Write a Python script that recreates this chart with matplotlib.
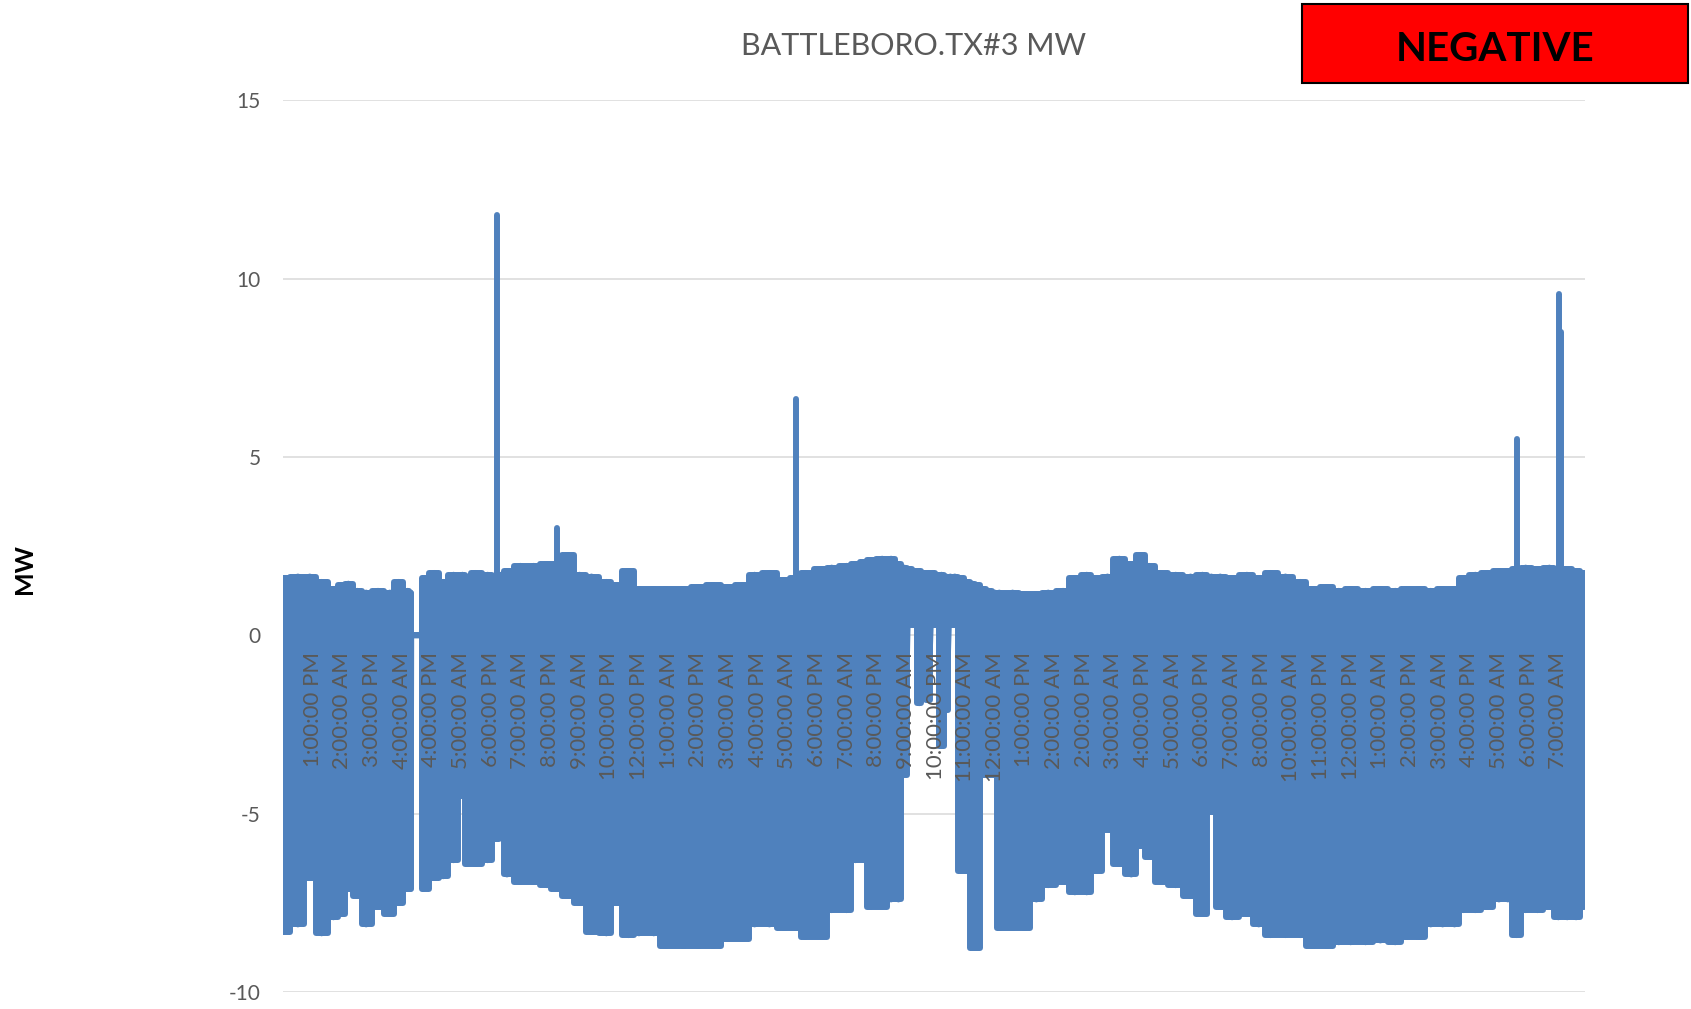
import numpy as np
import matplotlib
matplotlib.use("Agg")
from matplotlib import pyplot as plt
from matplotlib.patches import Rectangle

plt.rcParams['font.family'] = ['Lato', 'DejaVu Sans']

# time axis in label units (1 = first label), envelope of the dense MW trace
t = [0.0, 0.5, 0.9, 1.3, 1.7, 2.0, 2.2, 2.5, 2.8, 3.2, 3.6, 3.9, 4.2, 4.3,
     4.32, 4.68,
     4.72, 5.1, 5.4, 5.75, 6.05, 6.2, 6.5, 6.9, 7.2, 7.35, 7.55, 8.0, 8.45,
     8.9, 9.2, 9.6, 10.0, 10.4, 10.9, 11.2, 11.65, 12.0, 12.5, 12.9, 13.5,
     14.0, 14.5, 15.0, 15.5, 15.9, 16.4, 16.9, 17.3, 17.6, 18.2, 18.5, 19.0,
     19.3, 19.6, 19.8, 20.2, 20.5, 20.75,
     20.95, 21.1, 21.3, 21.45, 21.6, 21.75, 21.9, 22.05, 22.2, 22.36, 22.5,
     22.65, 22.85, 23.05, 23.25, 23.4, 23.6, 23.8, 24.0,
     24.15, 24.6, 25.0, 25.4, 25.8, 26.3, 26.7, 27.1, 27.4, 27.8, 28.2, 28.6,
     28.9, 29.2, 29.6, 30.1, 30.6, 31.0, 31.3, 31.6, 32.0, 32.5, 32.9, 33.3,
     33.8, 34.3, 34.7, 35.2, 35.6, 36.0, 36.5, 37.0, 37.5, 37.9, 38.3, 38.7,
     39.1, 39.5, 39.8, 40.2, 40.6, 41.0, 41.3, 41.6, 41.9, 42.3, 42.7, 43.0,
     43.3, 43.6, 43.85, 43.9]

hi = [1.6, 1.65, 1.65, 1.5, 1.3, 1.4, 1.45, 1.25, 1.2, 1.25, 1.2, 1.5, 1.25, 1.2,
      0, 0,
      1.6, 1.75, 1.5, 1.7, 1.7, 1.65, 1.75, 1.7, 1.6, 1.7, 1.8, 1.95, 1.95,
      2.0, 2.0, 2.25, 1.7, 1.65, 1.5, 1.4, 1.8, 1.3, 1.3, 1.3, 1.3,
      1.35, 1.4, 1.35, 1.4, 1.7, 1.75, 1.55, 1.6, 1.75, 1.85, 1.9, 1.95,
      2.0, 2.05, 2.1, 2.15, 2.15, 2.0,
      1.9, 1.85, 1.8, 1.8, 1.75, 1.75, 1.75, 1.7, 1.7, 1.65, 1.65,
      1.65, 1.6, 1.5, 1.45, 1.4, 1.3, 1.25, 1.2,
      1.2, 1.2, 1.15, 1.15, 1.2, 1.25, 1.6, 1.7, 1.6, 1.65, 2.15, 2.0,
      2.25, 1.95, 1.75, 1.7, 1.65, 1.7, 1.65, 1.65, 1.6, 1.7, 1.6, 1.75,
      1.65, 1.5, 1.3, 1.35, 1.25, 1.3, 1.25, 1.3, 1.25, 1.3, 1.3, 1.25,
      1.3, 1.3, 1.6, 1.7, 1.75, 1.8, 1.8, 1.85, 1.9, 1.85, 1.9, 1.85,
      1.85, 1.8, 1.75, 0]

lo = [-8.3, -8.1, -6.8, -8.35, -7.9, -7.8, -7.1, -7.3, -8.1, -7.6, -7.8, -7.5, -7.1, -7.1,
      0, 0,
      -7.1, -6.8, -6.75, -6.3, -4.5, -6.4, -6.4, -6.3, -5.7, -4.8, -6.7, -6.9, -6.9,
      -7.0, -7.1, -7.3, -7.5, -8.3, -8.35, -7.5, -8.4, -8.35, -8.35, -8.7, -8.7,
      -8.7, -8.7, -8.5, -8.5, -8.1, -8.1, -8.2, -8.2, -8.45, -8.45, -7.7, -7.7,
      -6.3, -6.3, -7.6, -7.6, -7.4, -7.4,
      -3.9, 0.3, 0.3, -1.9, 0.3, -1.8, 0.3, 0.3, -3.1, -2.1, 0.3,
      0.3, -6.6, -6.6, -8.75, -8.75, -3.9, -3.9, -3.9,
      -8.2, -8.2, -8.2, -7.4, -7.0, -6.9, -7.2, -7.2, -6.6, -5.45, -6.4, -6.7,
      -5.9, -6.2, -6.9, -7.0, -7.3, -7.8, -4.95, -7.6, -7.9, -7.8, -8.1, -8.4,
      -8.4, -8.4, -8.7, -8.7, -8.6, -8.6, -8.6, -8.55, -8.6, -8.45, -8.45, -8.1,
      -8.1, -8.1, -7.7, -7.7, -7.6, -7.4, -7.4, -8.4, -7.7, -7.7, -7.6, -7.9,
      -7.9, -7.9, -7.6, 0]

# short spikes above the band
spike_t = [7.2, 9.22, 17.3, 41.62, 43.02, 43.08]
spike_top = [11.77, 3.0, 6.63, 5.5, 9.56, 8.5]

xlabels = ['1:00:00 PM', '2:00:00 AM', '3:00:00 PM', '4:00:00 AM', '4:00:00 PM',
           '5:00:00 AM', '6:00:00 PM', '7:00:00 AM', '8:00:00 PM', '9:00:00 AM',
           '10:00:00 PM', '12:00:00 PM', '1:00:00 AM', '2:00:00 PM', '3:00:00 AM',
           '4:00:00 PM', '5:00:00 AM', '6:00:00 PM', '7:00:00 AM', '8:00:00 PM',
           '9:00:00 AM', '10:00:00 PM', '11:00:00 AM', '12:00:00 AM', '1:00:00 PM',
           '2:00:00 AM', '2:00:00 PM', '3:00:00 AM', '4:00:00 PM', '5:00:00 AM',
           '6:00:00 PM', '7:00:00 AM', '8:00:00 PM', '10:00:00 AM', '11:00:00 PM',
           '12:00:00 PM', '1:00:00 AM', '2:00:00 PM', '3:00:00 AM', '4:00:00 PM',
           '5:00:00 AM', '6:00:00 PM', '7:00:00 AM']
yticks = [-10, -5, 0, 5, 10, 15]

blue = '#4F81BD'
grey = '#595959'

fig = plt.figure(figsize=(16.91, 10.09), dpi=100)
ax = fig.add_axes([0.1674, 0.01665, 0.7699, 0.884])

# band + edges drawn as steps, then the trace itself zig-zagging hi/lo
ax.fill_between(t, lo, hi, step='mid', color=blue, lw=0, zorder=2)
ax.plot(t, hi, color=blue, lw=4.3, drawstyle='steps-mid', solid_joinstyle='round',
        solid_capstyle='round', zorder=2)
ax.plot(t, lo, color=blue, lw=4.3, drawstyle='steps-mid', solid_joinstyle='round',
        solid_capstyle='round', zorder=2)
zx = np.repeat(t, 2)
zy = np.column_stack([hi, lo]).ravel()
ax.plot(zx, zy, color=blue, lw=4.3, solid_joinstyle='round', solid_capstyle='round', zorder=2)
ax.vlines(spike_t, 0, spike_top, color=blue, lw=4.3, capstyle='round', zorder=2)

ax.set_xlim(0, 43.9)
ax.set_ylim(-10, 15)
ax.set_yticks(yticks)
ax.set_yticklabels([str(v) for v in yticks])
ax.yaxis.grid(True, color='#D9D9D9', lw=1.1)
ax.set_axisbelow(True)

ax.set_xticks(range(1, len(xlabels) + 1))
ax.set_xticklabels(xlabels)
ax.spines['bottom'].set_position(('data', 0))
ax.xaxis.set_zorder(5)
for s in ax.spines.values():
    s.set_visible(False)
ax.tick_params(axis='x', length=0, pad=12, labelsize=16, labelcolor=grey, labelrotation=90)
ax.tick_params(axis='y', length=0, pad=16, labelsize=15, labelcolor=grey)
for lab in ax.get_xticklabels():
    lab.set_va('top')
    lab.set_ha('center')

fig.text(0.54, 0.954, 'BATTLEBORO.TX#3 MW', ha='center', va='center',
         fontsize=22, color=grey)
fig.text(0.0142, 0.436, 'MW', rotation=90, ha='center', va='center',
         fontsize=18, fontweight='bold', color='black')

fig.patches.append(Rectangle((0.770, 0.9177), 0.2283, 0.0783, transform=fig.transFigure,
                             facecolor='#FF0000', edgecolor='black', lw=1.5))
fig.text(0.884, 0.951, 'NEGATIVE', ha='center', va='center', fontsize=29,
         fontweight='bold', color='black')

fig.savefig('out.png', dpi=100)
